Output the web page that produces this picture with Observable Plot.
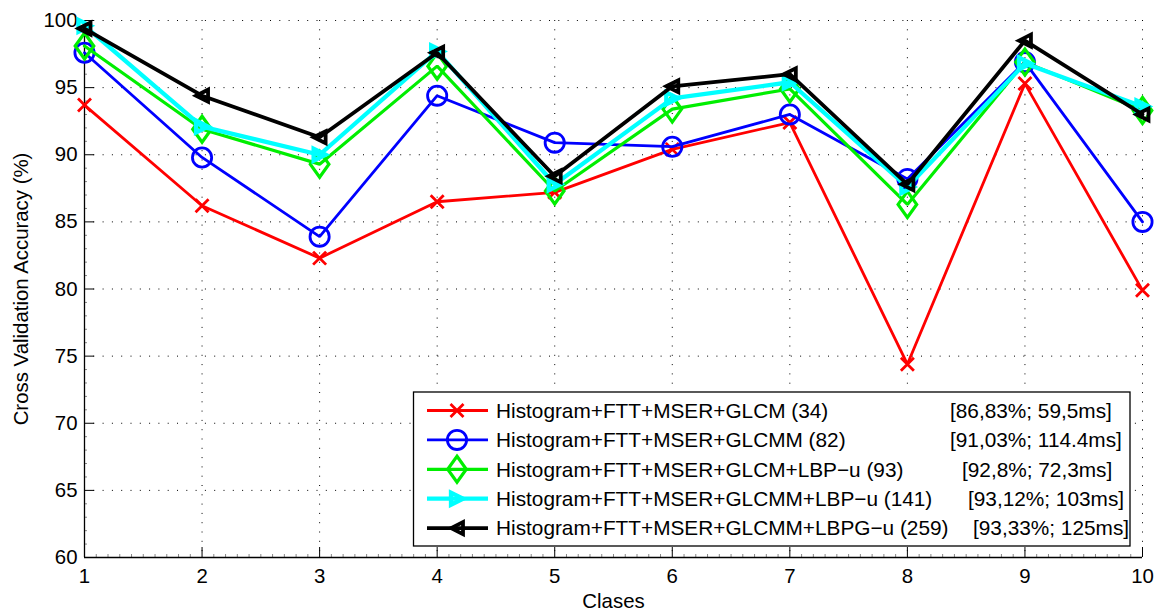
<!DOCTYPE html>
<html>
<head>
<meta charset="utf-8">
<script src="https://cdn.jsdelivr.net/npm/d3@7"></script>
<script src="https://cdn.jsdelivr.net/npm/@observablehq/plot@0.6"></script>
<style>
  html, body { margin: 0; padding: 0; background: #fff; }
  #chart { width: 1157px; height: 610px; }
</style>
</head>
<body>
<div id="chart"></div>
<script>
// Classes on the x axis
const clases = [1, 2, 3, 4, 5, 6, 7, 8, 9, 10];

// Cross validation accuracy (%) per class, one array per feature set
const histGlcm      = [93.7, 86.2, 82.3, 86.5, 87.2, 90.4, 92.4, 74.4, 95.3, 79.9];
const histGlcmm     = [97.6, 89.8, 83.9, 94.4, 90.9, 90.6, 93.0, 88.2, 96.9, 85.0];
const histGlcmLbp   = [98.1, 91.9, 89.3, 96.6, 87.3, 93.4, 94.9, 86.3, 96.9, 93.3];
const histGlcmmLbp  = [99.6, 92.1, 90.0, 97.7, 87.8, 94.2, 95.4, 87.6, 96.8, 93.6];
const histGlcmmLbpg = [99.4, 94.4, 91.3, 97.6, 88.4, 95.1, 96.0, 87.8, 98.5, 93.0];

// Legend texts
const seriesNames = [
  "Histogram+FTT+MSER+GLCM (34)",
  "Histogram+FTT+MSER+GLCMM (82)",
  "Histogram+FTT+MSER+GLCM+LBP\u2212u (93)",
  "Histogram+FTT+MSER+GLCMM+LBP\u2212u (141)",
  "Histogram+FTT+MSER+GLCMM+LBPG\u2212u (259)"
];
const seriesStats = [
  "[86,83%; 59,5ms]",
  "[91,03%; 114.4ms]",
  "[92,8%; 72,3ms]",
  "[93,12%; 103ms]",
  "[93,33%; 125ms]"
];

// Axis ticks
const xTicks = [1, 2, 3, 4, 5, 6, 7, 8, 9, 10];
const yTicks = [60, 65, 70, 75, 80, 85, 90, 95, 100];

// Marker shapes (fixed pixel size)
const symTimes = { draw(c) { const s = 6.5; c.moveTo(-s, -s); c.lineTo(s, s); c.moveTo(-s, s); c.lineTo(s, -s); } };
const symCircle = { draw(c) { const r = 9.6; c.moveTo(r, 0); c.arc(0, 0, r, 0, 2 * Math.PI); } };
const symDiamond = { draw(c) { const h = 13, w = 9.3; c.moveTo(0, -h); c.lineTo(w, 0); c.lineTo(0, h); c.lineTo(-w, 0); c.closePath(); } };
const symRight = { draw(c) { const s = 6; c.moveTo(s, 0); c.lineTo(-s, -s); c.lineTo(-s, s); c.closePath(); } };
const symLeft = { draw(c) { const s = 6; c.moveTo(-s, 0); c.lineTo(s, -s); c.lineTo(s, s); c.closePath(); } };

const series = [
  { values: histGlcm,      color: "#ff0000", width: 2.8, symbol: symTimes },
  { values: histGlcmm,     color: "#0000ff", width: 2.8, symbol: symCircle },
  { values: histGlcmLbp,   color: "#00ee00", width: 3.2, symbol: symDiamond },
  { values: histGlcmmLbp,  color: "#00ffff", width: 4.3, symbol: symRight },
  { values: histGlcmmLbpg, color: "#000000", width: 3.8, symbol: symLeft }
];

const W = 1157, H = 610;
const mL = 84, mR = 15, mT = 20, mB = 53;
const frameW = W - mL - mR, frameH = H - mT - mB;
const font = '"Liberation Sans", Arial, Helvetica, sans-serif';
const fs = 20.4;
const legendFs = 20.8;

const minorX = d3.range(1, 10.0001, 0.1).map(v => Math.round(v * 10) / 10).filter(v => !xTicks.includes(v));
const minorY = d3.range(60, 100.0001, 1).filter(v => !yTicks.includes(v));

const seriesMarks = series.flatMap(s => {
  const rows = clases.map((c, i) => ({ clase: c, value: s.values[i] }));
  return [
    Plot.line(rows, { x: "clase", y: "value", stroke: s.color, strokeWidth: s.width, strokeLinejoin: "miter" }),
    Plot.dot(rows, { x: "clase", y: "value", symbol: s.symbol, r: 10, stroke: s.color, strokeWidth: s.width, fill: "none" })
  ];
});

const chart = Plot.plot({
  width: W,
  height: H,
  marginLeft: mL,
  marginRight: mR,
  marginTop: mT,
  marginBottom: mB,
  style: { fontFamily: font, fontSize: fs + "px", color: "#000", background: "#fff", overflow: "visible" },
  x: { domain: [1, 10] },
  y: { domain: [60, 100] },
  marks: [
    // dotted grid
    Plot.gridX({ ticks: xTicks, stroke: "#000", strokeOpacity: 1, strokeWidth: 1, strokeDasharray: "1,8.3" }),
    Plot.gridY({ ticks: yTicks, stroke: "#000", strokeOpacity: 1, strokeWidth: 1, strokeDasharray: "1,8.3" }),
    // inward ticks
    Plot.tickX(xTicks, { x: d => d, insetTop: frameH - 10, stroke: "#000", strokeWidth: 1 }),
    Plot.tickX(minorX, { x: d => d, insetTop: frameH - 3, stroke: "#888", strokeWidth: 1 }),
    Plot.tickY(yTicks, { y: d => d, insetRight: frameW - 10, stroke: "#000", strokeWidth: 1 }),
    Plot.tickY(minorY, { y: d => d, insetRight: frameW - 3, stroke: "#888", strokeWidth: 1 }),
    // axis lines
    Plot.ruleX([1], { stroke: "#000", strokeWidth: 1.3 }),
    Plot.ruleY([60], { stroke: "#000", strokeWidth: 1.3 }),
    Plot.axisX({ ticks: xTicks, tickSize: 0, tickPadding: 11, fontSize: fs, label: "Clases", labelAnchor: "center", labelOffset: 50, labelArrow: "none" }),
    Plot.axisY({ ticks: yTicks, tickSize: 0, tickPadding: 7, fontSize: fs, label: "Cross Validation Accuracy (%)", labelAnchor: "center", labelOffset: 70.5, labelArrow: "none" }),
    ...seriesMarks
  ]
});

document.getElementById("chart").appendChild(chart);

// Legend box in the lower right of the plot area
const lg = d3.select(chart).append("g")
  .attr("font-family", font)
  .attr("font-size", legendFs)
  .attr("text-anchor", "start")
  .attr("fill", "#000");
lg.append("rect")
  .attr("x", 413.5).attr("y", 392).attr("width", 716.5).attr("height", 154)
  .attr("fill", "#fff").attr("stroke", "#000").attr("stroke-width", 1.3);
const statsX = [950, 950, 962, 968, 973];
series.forEach((s, i) => {
  const cy = 410.5 + i * 29.4;
  lg.append("line")
    .attr("x1", 427).attr("x2", 488).attr("y1", cy).attr("y2", cy)
    .attr("stroke", s.color).attr("stroke-width", s.width);
  lg.append("path")
    .attr("d", d3.symbol(s.symbol, 100)())
    .attr("transform", `translate(457,${cy})`)
    .attr("fill", "none").attr("stroke", s.color).attr("stroke-width", s.width);
  lg.append("text").attr("x", 496).attr("y", cy + 7.3).attr("text-anchor", "start").text(seriesNames[i]);
  lg.append("text").attr("x", statsX[i]).attr("y", cy + 7.3).attr("text-anchor", "start").text(seriesStats[i]);
});
</script>
</body>
</html>
